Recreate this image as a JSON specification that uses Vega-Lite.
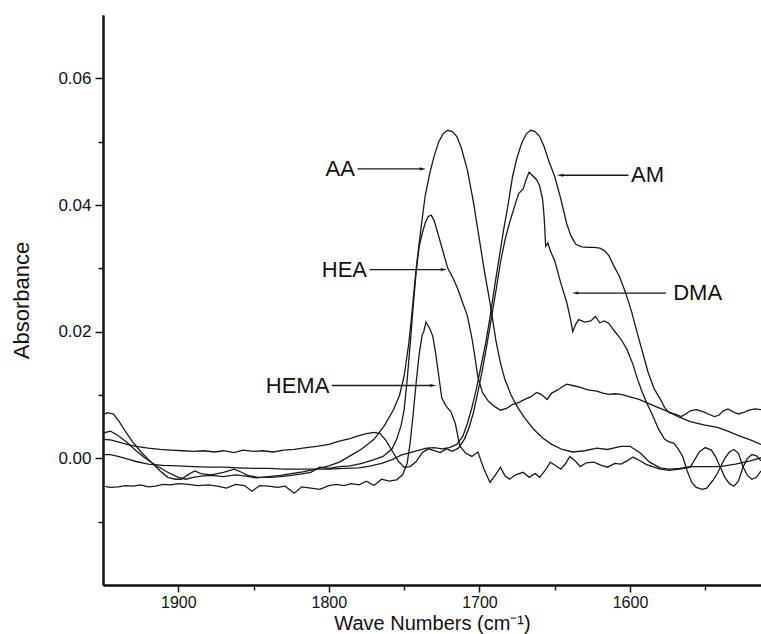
{
  "$schema": "https://vega.github.io/schema/vega-lite/v6.json",
  "width": 658,
  "height": 570,
  "autosize": "none",
  "padding": {"left": 103, "top": 15, "right": 0, "bottom": 49},
  "background": "white",
  "config": {
    "view": {"stroke": null},
    "font": "Liberation Sans",
    "axis": {
      "grid": false,
      "domainColor": "#111",
      "domainWidth": 2,
      "tickColor": "#111",
      "tickWidth": 1.5,
      "labelColor": "#111",
      "labelFont": "Liberation Sans",
      "labelFontSize": 18,
      "titleFont": "Liberation Sans",
      "titleFontSize": 22,
      "titleFontWeight": "normal",
      "titleColor": "#111"
    }
  },
  "datasets": {
    "spectra": [
      {"s":"AA","x":1950,"y":0.0040},{"s":"AA","x":1945,"y":0.0043},{"s":"AA","x":1940,"y":0.0036},{"s":"AA","x":1934,"y":0.0025},{"s":"AA","x":1928,"y":0.0012},{"s":"AA","x":1923,"y":0.0002},{"s":"AA","x":1915,"y":-0.0011},{"s":"AA","x":1907,"y":-0.0022},{"s":"AA","x":1900,"y":-0.0030},{"s":"AA","x":1895,"y":-0.0033},{"s":"AA","x":1890,"y":-0.0030},{"s":"AA","x":1885,"y":-0.0028},{"s":"AA","x":1878,"y":-0.0027},{"s":"AA","x":1870,"y":-0.0029},{"s":"AA","x":1862,"y":-0.0026},{"s":"AA","x":1855,"y":-0.0028},{"s":"AA","x":1848,"y":-0.0031},{"s":"AA","x":1840,"y":-0.0029},{"s":"AA","x":1832,"y":-0.0027},{"s":"AA","x":1825,"y":-0.0024},{"s":"AA","x":1819,"y":-0.0022},{"s":"AA","x":1810,"y":-0.0018},{"s":"AA","x":1800,"y":-0.0012},{"s":"AA","x":1793,"y":-0.0006},{"s":"AA","x":1785,"y":0.0005},{"s":"AA","x":1778,"y":0.0015},{"s":"AA","x":1770,"y":0.0030},{"s":"AA","x":1763,"y":0.0052},{"s":"AA","x":1757,"y":0.0077},{"s":"AA","x":1753,"y":0.0100},{"s":"AA","x":1750,"y":0.0130},{"s":"AA","x":1747,"y":0.0180},{"s":"AA","x":1745,"y":0.0225},{"s":"AA","x":1742,"y":0.0300},{"s":"AA","x":1739,"y":0.0360},{"s":"AA","x":1736,"y":0.0415},{"s":"AA","x":1733,"y":0.0450},{"s":"AA","x":1730,"y":0.0478},{"s":"AA","x":1727,"y":0.0500},{"s":"AA","x":1724,"y":0.0513},{"s":"AA","x":1721,"y":0.0518},{"s":"AA","x":1718,"y":0.0516},{"s":"AA","x":1715,"y":0.0508},{"s":"AA","x":1712,"y":0.0490},{"s":"AA","x":1708,"y":0.0455},{"s":"AA","x":1704,"y":0.0405},{"s":"AA","x":1700,"y":0.0345},{"s":"AA","x":1697,"y":0.0300},{"s":"AA","x":1693,"y":0.0246},{"s":"AA","x":1689,"y":0.0185},{"s":"AA","x":1686,"y":0.0150},{"s":"AA","x":1683,"y":0.0124},{"s":"AA","x":1679,"y":0.0100},{"s":"AA","x":1675,"y":0.0082},{"s":"AA","x":1670,"y":0.0064},{"s":"AA","x":1664,"y":0.0046},{"s":"AA","x":1658,"y":0.0032},{"s":"AA","x":1652,"y":0.0022},{"s":"AA","x":1645,"y":0.0014},{"s":"AA","x":1638,"y":0.0010},{"s":"AA","x":1630,"y":0.0012},{"s":"AA","x":1622,"y":0.0016},{"s":"AA","x":1615,"y":0.0014},{"s":"AA","x":1606,"y":0.0019},{"s":"AA","x":1600,"y":0.0019},{"s":"AA","x":1593,"y":0.0008},{"s":"AA","x":1587,"y":-0.0006},{"s":"AA","x":1580,"y":-0.0015},{"s":"AA","x":1574,"y":-0.0017},{"s":"AA","x":1567,"y":-0.0016},{"s":"AA","x":1560,"y":-0.0013},{"s":"AA","x":1550,"y":-0.0013},{"s":"AA","x":1540,"y":-0.0013},{"s":"AA","x":1530,"y":-0.0009},{"s":"AA","x":1520,"y":-0.0004},{"s":"AA","x":1513,"y":0.0001},

      {"s":"HEA","x":1950,"y":0.0069},{"s":"HEA","x":1947,"y":0.0072},{"s":"HEA","x":1943,"y":0.0070},{"s":"HEA","x":1939,"y":0.0057},{"s":"HEA","x":1935,"y":0.0042},{"s":"HEA","x":1930,"y":0.0025},{"s":"HEA","x":1924,"y":0.0008},{"s":"HEA","x":1918,"y":-0.0006},{"s":"HEA","x":1912,"y":-0.0020},{"s":"HEA","x":1907,"y":-0.0030},{"s":"HEA","x":1902,"y":-0.0033},{"s":"HEA","x":1898,"y":-0.0033},{"s":"HEA","x":1893,"y":-0.0025},{"s":"HEA","x":1889,"y":-0.0020},{"s":"HEA","x":1885,"y":-0.0024},{"s":"HEA","x":1878,"y":-0.0026},{"s":"HEA","x":1870,"y":-0.0022},{"s":"HEA","x":1863,"y":-0.0017},{"s":"HEA","x":1858,"y":-0.0022},{"s":"HEA","x":1854,"y":-0.0027},{"s":"HEA","x":1847,"y":-0.0030},{"s":"HEA","x":1840,"y":-0.0030},{"s":"HEA","x":1832,"y":-0.0029},{"s":"HEA","x":1825,"y":-0.0027},{"s":"HEA","x":1819,"y":-0.0025},{"s":"HEA","x":1812,"y":-0.0022},{"s":"HEA","x":1806,"y":-0.0014},{"s":"HEA","x":1800,"y":-0.0016},{"s":"HEA","x":1793,"y":-0.0013},{"s":"HEA","x":1786,"y":-0.0012},{"s":"HEA","x":1778,"y":-0.0008},{"s":"HEA","x":1770,"y":-0.0002},{"s":"HEA","x":1764,"y":0.0003},{"s":"HEA","x":1758,"y":0.0015},{"s":"HEA","x":1755,"y":0.0030},{"s":"HEA","x":1752,"y":0.0052},{"s":"HEA","x":1750,"y":0.0077},{"s":"HEA","x":1748,"y":0.0124},{"s":"HEA","x":1746,"y":0.0180},{"s":"HEA","x":1744,"y":0.0240},{"s":"HEA","x":1742,"y":0.0295},{"s":"HEA","x":1740,"y":0.0335},{"s":"HEA","x":1738,"y":0.0355},{"s":"HEA","x":1736,"y":0.0372},{"s":"HEA","x":1734,"y":0.0382},{"s":"HEA","x":1732,"y":0.0384},{"s":"HEA","x":1730,"y":0.0375},{"s":"HEA","x":1727,"y":0.0350},{"s":"HEA","x":1724,"y":0.0325},{"s":"HEA","x":1721,"y":0.0300},{"s":"HEA","x":1717,"y":0.0282},{"s":"HEA","x":1714,"y":0.0265},{"s":"HEA","x":1711,"y":0.0245},{"s":"HEA","x":1708,"y":0.0225},{"s":"HEA","x":1705,"y":0.0190},{"s":"HEA","x":1703,"y":0.0160},{"s":"HEA","x":1701,"y":0.0128},{"s":"HEA","x":1698,"y":0.0104},{"s":"HEA","x":1694,"y":0.0090},{"s":"HEA","x":1690,"y":0.0082},{"s":"HEA","x":1686,"y":0.0076},{"s":"HEA","x":1682,"y":0.0079},{"s":"HEA","x":1678,"y":0.0085},{"s":"HEA","x":1674,"y":0.0088},{"s":"HEA","x":1670,"y":0.0093},{"s":"HEA","x":1666,"y":0.0097},{"s":"HEA","x":1662,"y":0.0104},{"s":"HEA","x":1659,"y":0.0101},{"s":"HEA","x":1655,"y":0.0093},{"s":"HEA","x":1652,"y":0.0103},{"s":"HEA","x":1648,"y":0.0108},{"s":"HEA","x":1645,"y":0.0113},{"s":"HEA","x":1642,"y":0.0117},{"s":"HEA","x":1638,"y":0.0115},{"s":"HEA","x":1633,"y":0.0112},{"s":"HEA","x":1628,"y":0.0108},{"s":"HEA","x":1622,"y":0.0106},{"s":"HEA","x":1618,"y":0.0103},{"s":"HEA","x":1614,"y":0.0101},{"s":"HEA","x":1610,"y":0.0102},{"s":"HEA","x":1606,"y":0.0101},{"s":"HEA","x":1600,"y":0.0097},{"s":"HEA","x":1594,"y":0.0093},{"s":"HEA","x":1589,"y":0.0088},{"s":"HEA","x":1582,"y":0.0081},{"s":"HEA","x":1575,"y":0.0074},{"s":"HEA","x":1568,"y":0.0066},{"s":"HEA","x":1560,"y":0.0058},{"s":"HEA","x":1551,"y":0.0053},{"s":"HEA","x":1542,"y":0.0049},{"s":"HEA","x":1535,"y":0.0043},{"s":"HEA","x":1528,"y":0.0036},{"s":"HEA","x":1520,"y":0.0029},{"s":"HEA","x":1513,"y":0.0022},

      {"s":"HEMA","x":1950,"y":-0.0044},{"s":"HEMA","x":1945,"y":-0.0046},{"s":"HEMA","x":1940,"y":-0.0045},{"s":"HEMA","x":1935,"y":-0.0043},{"s":"HEMA","x":1930,"y":-0.0044},{"s":"HEMA","x":1925,"y":-0.0042},{"s":"HEMA","x":1920,"y":-0.0045},{"s":"HEMA","x":1915,"y":-0.0044},{"s":"HEMA","x":1910,"y":-0.0041},{"s":"HEMA","x":1905,"y":-0.0042},{"s":"HEMA","x":1900,"y":-0.0040},{"s":"HEMA","x":1893,"y":-0.0041},{"s":"HEMA","x":1887,"y":-0.0043},{"s":"HEMA","x":1880,"y":-0.0042},{"s":"HEMA","x":1874,"y":-0.0044},{"s":"HEMA","x":1868,"y":-0.0047},{"s":"HEMA","x":1862,"y":-0.0041},{"s":"HEMA","x":1856,"y":-0.0043},{"s":"HEMA","x":1851,"y":-0.0052},{"s":"HEMA","x":1846,"y":-0.0043},{"s":"HEMA","x":1840,"y":-0.0044},{"s":"HEMA","x":1834,"y":-0.0046},{"s":"HEMA","x":1829,"y":-0.0044},{"s":"HEMA","x":1823,"y":-0.0055},{"s":"HEMA","x":1818,"y":-0.0045},{"s":"HEMA","x":1812,"y":-0.0047},{"s":"HEMA","x":1806,"y":-0.0049},{"s":"HEMA","x":1800,"y":-0.0043},{"s":"HEMA","x":1795,"y":-0.0041},{"s":"HEMA","x":1790,"y":-0.0043},{"s":"HEMA","x":1785,"y":-0.0040},{"s":"HEMA","x":1780,"y":-0.0042},{"s":"HEMA","x":1775,"y":-0.0036},{"s":"HEMA","x":1770,"y":-0.0043},{"s":"HEMA","x":1765,"y":-0.0033},{"s":"HEMA","x":1760,"y":-0.0036},{"s":"HEMA","x":1755,"y":-0.0034},{"s":"HEMA","x":1751,"y":-0.0026},{"s":"HEMA","x":1748,"y":-0.0008},{"s":"HEMA","x":1746,"y":0.0025},{"s":"HEMA","x":1744,"y":0.0070},{"s":"HEMA","x":1742,"y":0.0120},{"s":"HEMA","x":1740,"y":0.0165},{"s":"HEMA","x":1738,"y":0.0195},{"s":"HEMA","x":1737,"y":0.0200},{"s":"HEMA","x":1735.5,"y":0.0215},{"s":"HEMA","x":1733,"y":0.0205},{"s":"HEMA","x":1731,"y":0.0193},{"s":"HEMA","x":1729,"y":0.0165},{"s":"HEMA","x":1727,"y":0.0130},{"s":"HEMA","x":1725,"y":0.0095},{"s":"HEMA","x":1722,"y":0.0082},{"s":"HEMA","x":1719,"y":0.0074},{"s":"HEMA","x":1716,"y":0.0055},{"s":"HEMA","x":1713,"y":0.0019},{"s":"HEMA","x":1709,"y":0.0008},{"s":"HEMA","x":1705,"y":0.0003},{"s":"HEMA","x":1701,"y":0.0010},{"s":"HEMA","x":1697,"y":-0.0017},{"s":"HEMA","x":1693,"y":-0.0038},{"s":"HEMA","x":1689,"y":-0.0025},{"s":"HEMA","x":1686,"y":-0.0014},{"s":"HEMA","x":1683,"y":-0.0028},{"s":"HEMA","x":1680,"y":-0.0033},{"s":"HEMA","x":1676,"y":-0.0026},{"s":"HEMA","x":1671,"y":-0.0022},{"s":"HEMA","x":1667,"y":-0.0030},{"s":"HEMA","x":1663,"y":-0.0024},{"s":"HEMA","x":1660,"y":-0.0030},{"s":"HEMA","x":1656,"y":-0.0018},{"s":"HEMA","x":1653,"y":-0.0006},{"s":"HEMA","x":1649,"y":-0.0012},{"s":"HEMA","x":1646,"y":-0.0017},{"s":"HEMA","x":1643,"y":-0.0009},{"s":"HEMA","x":1640,"y":0.0003},{"s":"HEMA","x":1636,"y":-0.0005},{"s":"HEMA","x":1633,"y":-0.0013},{"s":"HEMA","x":1629,"y":-0.0007},{"s":"HEMA","x":1624,"y":-0.0006},{"s":"HEMA","x":1619,"y":-0.0011},{"s":"HEMA","x":1615,"y":-0.0014},{"s":"HEMA","x":1610,"y":-0.0008},{"s":"HEMA","x":1606,"y":-0.0009},{"s":"HEMA","x":1602,"y":-0.0004},{"s":"HEMA","x":1598,"y":0.0002},{"s":"HEMA","x":1594,"y":-0.0003},{"s":"HEMA","x":1589,"y":-0.0010},{"s":"HEMA","x":1584,"y":-0.0014},{"s":"HEMA","x":1580,"y":-0.0017},{"s":"HEMA","x":1574,"y":-0.0019},{"s":"HEMA","x":1567,"y":-0.0017},{"s":"HEMA","x":1560,"y":-0.0014},{"s":"HEMA","x":1557,"y":-0.0002},{"s":"HEMA","x":1554,"y":0.0010},{"s":"HEMA","x":1550,"y":0.0017},{"s":"HEMA","x":1546,"y":0.0013},{"s":"HEMA","x":1543,"y":0.0002},{"s":"HEMA","x":1540,"y":-0.0014},{"s":"HEMA","x":1537,"y":-0.0030},{"s":"HEMA","x":1534,"y":-0.0040},{"s":"HEMA","x":1531,"y":-0.0044},{"s":"HEMA","x":1528,"y":-0.0036},{"s":"HEMA","x":1525,"y":-0.0014},{"s":"HEMA","x":1522,"y":0.0000},{"s":"HEMA","x":1519,"y":0.0006},{"s":"HEMA","x":1516,"y":0.0004},{"s":"HEMA","x":1513,"y":-0.0004},

      {"s":"DMA","x":1950,"y":0.0030},{"s":"DMA","x":1945,"y":0.0029},{"s":"DMA","x":1940,"y":0.0026},{"s":"DMA","x":1934,"y":0.0022},{"s":"DMA","x":1928,"y":0.0019},{"s":"DMA","x":1920,"y":0.0016},{"s":"DMA","x":1912,"y":0.0014},{"s":"DMA","x":1905,"y":0.0013},{"s":"DMA","x":1897,"y":0.0012},{"s":"DMA","x":1890,"y":0.0011},{"s":"DMA","x":1883,"y":0.0012},{"s":"DMA","x":1876,"y":0.0010},{"s":"DMA","x":1870,"y":0.0012},{"s":"DMA","x":1863,"y":0.0009},{"s":"DMA","x":1857,"y":0.0013},{"s":"DMA","x":1850,"y":0.0011},{"s":"DMA","x":1844,"y":0.0012},{"s":"DMA","x":1837,"y":0.0010},{"s":"DMA","x":1830,"y":0.0013},{"s":"DMA","x":1823,"y":0.0014},{"s":"DMA","x":1815,"y":0.0017},{"s":"DMA","x":1808,"y":0.0019},{"s":"DMA","x":1800,"y":0.0022},{"s":"DMA","x":1793,"y":0.0027},{"s":"DMA","x":1786,"y":0.0031},{"s":"DMA","x":1780,"y":0.0036},{"s":"DMA","x":1775,"y":0.0039},{"s":"DMA","x":1770,"y":0.0041},{"s":"DMA","x":1766,"y":0.0039},{"s":"DMA","x":1762,"y":0.0028},{"s":"DMA","x":1758,"y":0.0012},{"s":"DMA","x":1754,"y":-0.0004},{"s":"DMA","x":1750,"y":-0.0014},{"s":"DMA","x":1746,"y":-0.0013},{"s":"DMA","x":1742,"y":-0.0005},{"s":"DMA","x":1738,"y":0.0009},{"s":"DMA","x":1734,"y":0.0015},{"s":"DMA","x":1730,"y":0.0012},{"s":"DMA","x":1726,"y":0.0009},{"s":"DMA","x":1722,"y":0.0015},{"s":"DMA","x":1718,"y":0.0011},{"s":"DMA","x":1714,"y":0.0016},{"s":"DMA","x":1710,"y":0.0030},{"s":"DMA","x":1707,"y":0.0048},{"s":"DMA","x":1704,"y":0.0072},{"s":"DMA","x":1701,"y":0.0105},{"s":"DMA","x":1698,"y":0.0140},{"s":"DMA","x":1695,"y":0.0180},{"s":"DMA","x":1692,"y":0.0222},{"s":"DMA","x":1689,"y":0.0265},{"s":"DMA","x":1686,"y":0.0310},{"s":"DMA","x":1683,"y":0.0345},{"s":"DMA","x":1680,"y":0.0372},{"s":"DMA","x":1677,"y":0.0395},{"s":"DMA","x":1674,"y":0.0418},{"s":"DMA","x":1671,"y":0.0425},{"s":"DMA","x":1669,"y":0.0440},{"s":"DMA","x":1667,"y":0.0452},{"s":"DMA","x":1665,"y":0.0447},{"s":"DMA","x":1662,"y":0.0440},{"s":"DMA","x":1660,"y":0.0430},{"s":"DMA","x":1658,"y":0.0408},{"s":"DMA","x":1657,"y":0.0380},{"s":"DMA","x":1656,"y":0.0335},{"s":"DMA","x":1654.5,"y":0.0340},{"s":"DMA","x":1653,"y":0.0328},{"s":"DMA","x":1650,"y":0.0312},{"s":"DMA","x":1646,"y":0.0277},{"s":"DMA","x":1642,"y":0.0246},{"s":"DMA","x":1640,"y":0.0225},{"s":"DMA","x":1638,"y":0.0200},{"s":"DMA","x":1636,"y":0.0212},{"s":"DMA","x":1634,"y":0.0219},{"s":"DMA","x":1630,"y":0.0215},{"s":"DMA","x":1626,"y":0.0217},{"s":"DMA","x":1623,"y":0.0224},{"s":"DMA","x":1620,"y":0.0214},{"s":"DMA","x":1617,"y":0.0217},{"s":"DMA","x":1614,"y":0.0213},{"s":"DMA","x":1611,"y":0.0203},{"s":"DMA","x":1606,"y":0.0188},{"s":"DMA","x":1602,"y":0.0172},{"s":"DMA","x":1598,"y":0.0148},{"s":"DMA","x":1595,"y":0.0125},{"s":"DMA","x":1592,"y":0.0105},{"s":"DMA","x":1589,"y":0.0088},{"s":"DMA","x":1585,"y":0.0068},{"s":"DMA","x":1581,"y":0.0046},{"s":"DMA","x":1577,"y":0.0030},{"s":"DMA","x":1574,"y":0.0026},{"s":"DMA","x":1571,"y":0.0024},{"s":"DMA","x":1568,"y":0.0015},{"s":"DMA","x":1565,"y":0.0003},{"s":"DMA","x":1562,"y":-0.0020},{"s":"DMA","x":1559,"y":-0.0038},{"s":"DMA","x":1556,"y":-0.0046},{"s":"DMA","x":1552,"y":-0.0049},{"s":"DMA","x":1549,"y":-0.0047},{"s":"DMA","x":1545,"y":-0.0035},{"s":"DMA","x":1542,"y":-0.0024},{"s":"DMA","x":1540,"y":-0.0014},{"s":"DMA","x":1537,"y":0.0000},{"s":"DMA","x":1534,"y":0.0010},{"s":"DMA","x":1531,"y":0.0014},{"s":"DMA","x":1528,"y":0.0008},{"s":"DMA","x":1525,"y":-0.0013},{"s":"DMA","x":1522,"y":-0.0027},{"s":"DMA","x":1519,"y":-0.0033},{"s":"DMA","x":1516,"y":-0.0030},{"s":"DMA","x":1513,"y":-0.0020},

      {"s":"AM","x":1950,"y":0.0006},{"s":"AM","x":1945,"y":0.0006},{"s":"AM","x":1940,"y":0.0003},{"s":"AM","x":1934,"y":-0.0001},{"s":"AM","x":1928,"y":-0.0005},{"s":"AM","x":1920,"y":-0.0009},{"s":"AM","x":1910,"y":-0.0011},{"s":"AM","x":1900,"y":-0.0012},{"s":"AM","x":1890,"y":-0.0013},{"s":"AM","x":1880,"y":-0.0014},{"s":"AM","x":1870,"y":-0.0014},{"s":"AM","x":1860,"y":-0.0015},{"s":"AM","x":1850,"y":-0.0016},{"s":"AM","x":1840,"y":-0.0016},{"s":"AM","x":1830,"y":-0.0017},{"s":"AM","x":1820,"y":-0.0017},{"s":"AM","x":1810,"y":-0.0017},{"s":"AM","x":1800,"y":-0.0017},{"s":"AM","x":1790,"y":-0.0016},{"s":"AM","x":1780,"y":-0.0015},{"s":"AM","x":1772,"y":-0.0012},{"s":"AM","x":1765,"y":-0.0008},{"s":"AM","x":1758,"y":-0.0002},{"s":"AM","x":1752,"y":0.0005},{"s":"AM","x":1746,"y":0.0009},{"s":"AM","x":1740,"y":0.0013},{"s":"AM","x":1735,"y":0.0016},{"s":"AM","x":1730,"y":0.0017},{"s":"AM","x":1725,"y":0.0015},{"s":"AM","x":1720,"y":0.0017},{"s":"AM","x":1715,"y":0.0022},{"s":"AM","x":1711,"y":0.0035},{"s":"AM","x":1708,"y":0.0055},{"s":"AM","x":1705,"y":0.0080},{"s":"AM","x":1702,"y":0.0110},{"s":"AM","x":1699,"y":0.0145},{"s":"AM","x":1696,"y":0.0180},{"s":"AM","x":1693,"y":0.0222},{"s":"AM","x":1690,"y":0.0270},{"s":"AM","x":1687,"y":0.0315},{"s":"AM","x":1684,"y":0.0360},{"s":"AM","x":1681,"y":0.0400},{"s":"AM","x":1678,"y":0.0445},{"s":"AM","x":1675,"y":0.0475},{"s":"AM","x":1672,"y":0.0497},{"s":"AM","x":1669,"y":0.0512},{"s":"AM","x":1666,"y":0.0518},{"s":"AM","x":1663,"y":0.0516},{"s":"AM","x":1660,"y":0.0508},{"s":"AM","x":1657,"y":0.0492},{"s":"AM","x":1654,"y":0.0470},{"s":"AM","x":1650,"y":0.0445},{"s":"AM","x":1646,"y":0.0410},{"s":"AM","x":1642,"y":0.0370},{"s":"AM","x":1639,"y":0.0350},{"s":"AM","x":1636,"y":0.0338},{"s":"AM","x":1632,"y":0.0334},{"s":"AM","x":1628,"y":0.0333},{"s":"AM","x":1624,"y":0.0333},{"s":"AM","x":1620,"y":0.0332},{"s":"AM","x":1617,"y":0.0328},{"s":"AM","x":1614,"y":0.0320},{"s":"AM","x":1611,"y":0.0305},{"s":"AM","x":1607,"y":0.0287},{"s":"AM","x":1603,"y":0.0262},{"s":"AM","x":1599,"y":0.0232},{"s":"AM","x":1595,"y":0.0196},{"s":"AM","x":1591,"y":0.0162},{"s":"AM","x":1588,"y":0.0136},{"s":"AM","x":1584,"y":0.0110},{"s":"AM","x":1580,"y":0.0094},{"s":"AM","x":1577,"y":0.0080},{"s":"AM","x":1574,"y":0.0072},{"s":"AM","x":1570,"y":0.0070},{"s":"AM","x":1566,"y":0.0066},{"s":"AM","x":1563,"y":0.0070},{"s":"AM","x":1560,"y":0.0075},{"s":"AM","x":1556,"y":0.0077},{"s":"AM","x":1552,"y":0.0074},{"s":"AM","x":1548,"y":0.0070},{"s":"AM","x":1544,"y":0.0066},{"s":"AM","x":1541,"y":0.0068},{"s":"AM","x":1538,"y":0.0075},{"s":"AM","x":1535,"y":0.0078},{"s":"AM","x":1531,"y":0.0073},{"s":"AM","x":1528,"y":0.0070},{"s":"AM","x":1525,"y":0.0072},{"s":"AM","x":1521,"y":0.0076},{"s":"AM","x":1517,"y":0.0078},{"s":"AM","x":1513,"y":0.0077}
    ],
    "arrows": [
      {"label":"AA","tx":1782,"x1":1781,"x2":1739,"y":0.0457,"dir":"right"},
      {"label":"HEA","tx":1774,"x1":1773,"x2":1725,"y":0.0298,"dir":"right"},
      {"label":"HEMA","tx":1799,"x1":1798,"x2":1732,"y":0.0115,"dir":"right"},
      {"label":"AM","tx":1600,"x1":1601,"x2":1645,"y":0.0447,"dir":"left"},
      {"label":"DMA","tx":1572,"x1":1576,"x2":1635,"y":0.0261,"dir":"left"}
    ]
  },
  "layer": [
    {
      "data": {"name": "spectra"},
      "mark": {"type": "line", "stroke": "#1a1a1a", "strokeWidth": 1.3, "clip": true},
      "encoding": {
        "x": {
          "field": "x", "type": "quantitative",
          "scale": {"domain": [1950, 1513], "nice": false, "zero": false},
          "axis": {"values": [1900, 1800, 1700, 1600], "format": "d", "tickSize": 7, "labelPadding": 2, "labelFontSize": 16, "title": "Wave Numbers (cm⁻¹)", "titleFontSize": 20, "titlePadding": 3, "orient": "bottom"}
        },
        "y": {
          "field": "y", "type": "quantitative",
          "scale": {"domain": [-0.02, 0.07], "nice": false, "zero": false},
          "axis": {"values": [0, 0.02, 0.04, 0.06], "format": ".2f", "tickSize": 8, "labelPadding": 4, "labelFontSize": 17, "title": "Absorbance", "titlePadding": 24, "orient": "left"}
        },
        "detail": {"field": "s", "type": "nominal"}
      }
    },
    {
      "data": {"name": "arrows"},
      "mark": {"type": "rule", "stroke": "#1a1a1a", "strokeWidth": 1.3},
      "encoding": {
        "x": {
          "field": "x1", "type": "quantitative",
          "axis": {"values": [1850, 1750, 1650, 1550], "labels": false, "tickSize": 5, "title": null, "orient": "bottom"}
        },
        "x2": {"field": "x2"},
        "y": {
          "field": "y", "type": "quantitative",
          "axis": {"values": [-0.01, 0.01, 0.03, 0.05], "labels": false, "tickSize": 5, "title": null, "orient": "left"}
        }
      }
    },
    {
      "data": {"name": "arrows"},
      "mark": {"type": "point", "filled": true, "fill": "#1a1a1a", "strokeWidth": 0, "opacity": 1, "size": 110},
      "encoding": {
        "x": {"field": "x2", "type": "quantitative", "axis": null},
        "y": {"field": "y", "type": "quantitative", "axis": null},
        "shape": {
          "field": "dir", "type": "nominal",
          "scale": {"domain": ["right", "left"], "range": ["M-0.2,-0.3L1,0L-0.2,0.3Z", "M0.2,-0.3L-1,0L0.2,0.3Z"]},
          "legend": null
        }
      }
    },
    {
      "data": {"name": "arrows"},
      "transform": [{"filter": "datum.dir === 'right'"}],
      "mark": {"type": "text", "align": "right", "baseline": "middle", "dx": -1, "fontSize": 22, "font": "Liberation Sans", "fill": "#111"},
      "encoding": {
        "x": {"field": "tx", "type": "quantitative", "axis": null},
        "y": {"field": "y", "type": "quantitative", "axis": null},
        "text": {"field": "label"}
      }
    },
    {
      "data": {"name": "arrows"},
      "transform": [{"filter": "datum.dir === 'left'"}],
      "mark": {"type": "text", "align": "left", "baseline": "middle", "dx": 1, "fontSize": 22, "font": "Liberation Sans", "fill": "#111"},
      "encoding": {
        "x": {"field": "tx", "type": "quantitative", "axis": null},
        "y": {"field": "y", "type": "quantitative", "axis": null},
        "text": {"field": "label"}
      }
    }
  ],
  "resolve": {"axis": {"x": "independent", "y": "independent"}}
}
